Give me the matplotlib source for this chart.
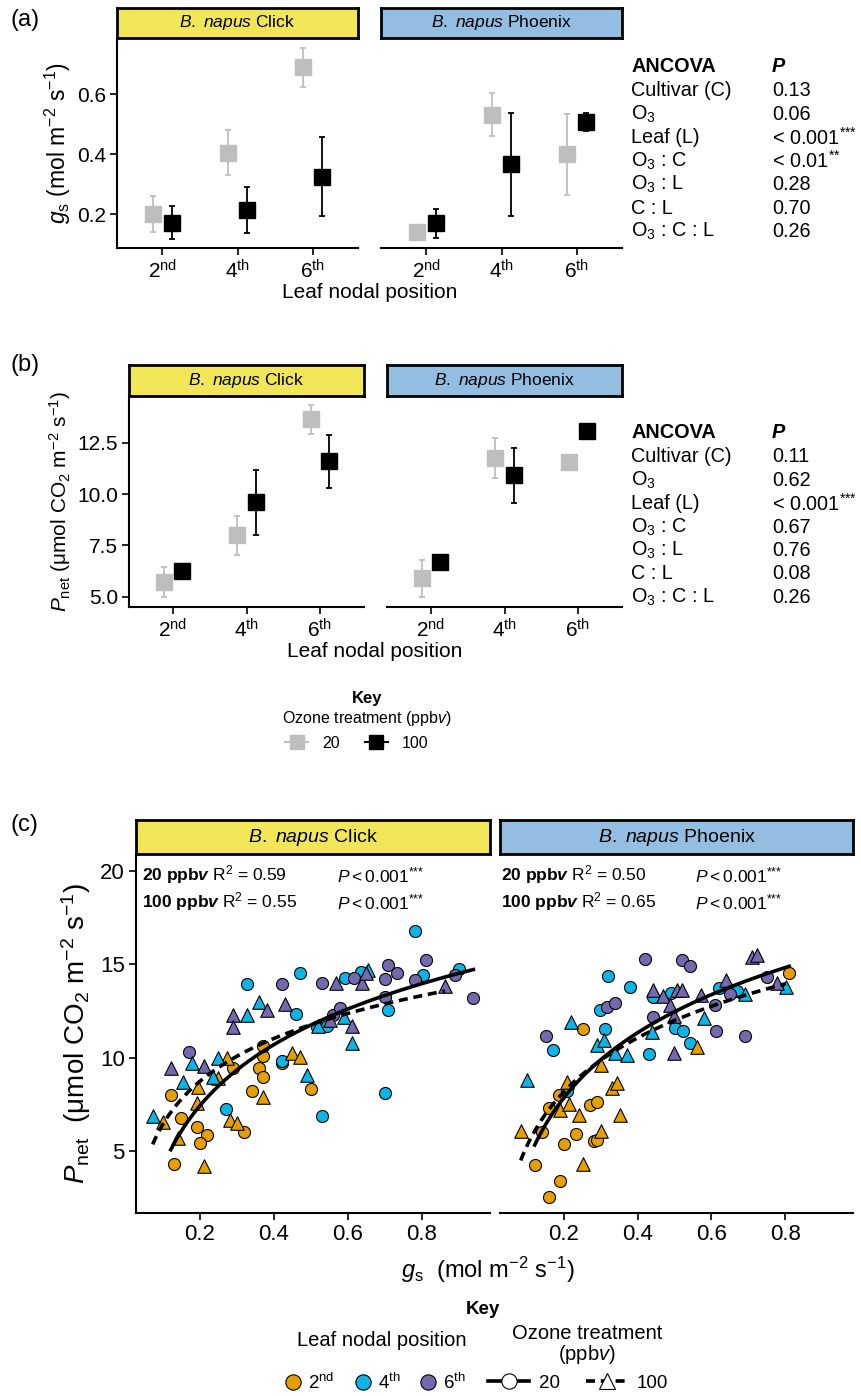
import numpy as np
import matplotlib
matplotlib.use("Agg")
import matplotlib.pyplot as plt
from matplotlib.lines import Line2D

plt.rcParams["font.family"] = ["Liberation Sans", "DejaVu Sans"]
plt.rcParams["mathtext.fontset"] = "custom"
plt.rcParams["mathtext.rm"] = "Liberation Sans"
plt.rcParams["mathtext.it"] = "Liberation Sans:italic"
plt.rcParams["mathtext.bf"] = "Liberation Sans:bold"
plt.rcParams["mathtext.bfit"] = "Liberation Sans:italic:bold"

# -- data: panel (a) g_s and (b) P_net, means +- error ------------------------
leaf_labels = [r"2$^{\rm nd}$", r"4$^{\rm th}$", r"6$^{\rm th}$"]

gs_click_20 = [0.200, 0.406, 0.690]
gs_click_20_err = [0.060, 0.075, 0.066]
gs_click_100 = [0.172, 0.216, 0.326]
gs_click_100_err = [0.055, 0.077, 0.132]
gs_phoenix_20 = [0.140, 0.533, 0.400]
gs_phoenix_20_err = [0.02, 0.072, 0.135]
gs_phoenix_100 = [0.170, 0.367, 0.509]
gs_phoenix_100_err = [0.047, 0.172, 0.030]

pn_click_20 = [5.70, 7.99, 13.64]
pn_click_20_err = [0.73, 0.94, 0.70]
pn_click_100 = [6.27, 9.60, 11.59]
pn_click_100_err = [0.30, 1.57, 1.31]
pn_phoenix_20 = [5.90, 11.77, 11.56]
pn_phoenix_20_err = [0.90, 0.97, 0.30]
pn_phoenix_100 = [6.68, 10.92, 13.06]
pn_phoenix_100_err = [0.35, 1.33, 0.30]

STARS3 = r"$^{{*}{*}{*}}$"
STARS2 = r"$^{{*}{*}}$"
ancova_terms = ["Cultivar (C)", r"O$_3$", "Leaf (L)", r"O$_3$ : C",
                r"O$_3$ : L", "C : L", r"O$_3$ : C : L"]
ancova_p_gs = ["0.13", "0.06", "< 0.001" + STARS3, "< 0.01" + STARS2,
               "0.28", "0.70", "0.26"]
ancova_p_pn = ["0.11", "0.62", "< 0.001" + STARS3, "0.67", "0.76",
               "0.08", "0.26"]

# -- data: panel (c) scatter, (g_s, P_net) per cultivar / ozone / leaf -------
click_20 = {
    2: [(0.121, 8.00), (0.150, 6.75), (0.191, 6.27), (0.220, 5.86), (0.200, 5.45),
        (0.130, 4.29), (0.290, 9.43), (0.340, 8.21), (0.320, 6.04), (0.360, 9.43),
        (0.371, 8.98), (0.371, 10.09), (0.371, 10.64), (0.421, 9.70), (0.499, 8.34)],
    4: [(0.328, 13.93), (0.470, 14.52), (0.459, 12.34), (0.270, 7.23), (0.421, 9.84),
        (0.529, 6.88), (0.700, 8.13), (0.781, 16.79), (0.592, 14.25), (0.634, 14.57),
        (0.709, 12.55), (0.802, 14.43), (0.901, 14.73), (0.515, 11.63), (0.544, 11.70)],
    6: [(0.170, 10.29), (0.421, 13.93), (0.529, 13.98), (0.617, 14.25), (0.700, 14.20),
        (0.709, 14.96), (0.732, 14.52), (0.781, 14.13), (0.811, 15.23), (0.889, 14.43),
        (0.939, 13.18), (0.700, 13.27), (0.560, 12.29), (0.578, 12.64)],
}
click_100 = {
    2: [(0.101, 6.57), (0.141, 5.68), (0.211, 4.20), (0.191, 7.55), (0.195, 8.45),
        (0.250, 8.89), (0.272, 9.96), (0.281, 6.66), (0.301, 6.48), (0.371, 7.88),
        (0.450, 10.23), (0.470, 10.02)],
    4: [(0.072, 6.88), (0.153, 8.71), (0.178, 9.73), (0.250, 9.96), (0.236, 8.98),
        (0.328, 12.29), (0.360, 12.95), (0.488, 9.07), (0.610, 10.77), (0.589, 12.20),
        (0.520, 11.70), (0.653, 14.70)],
    6: [(0.121, 9.43), (0.211, 9.55), (0.290, 12.29), (0.290, 11.63), (0.380, 12.55),
        (0.430, 12.86), (0.569, 13.98), (0.637, 13.98), (0.650, 14.55), (0.862, 13.84),
        (0.610, 11.70), (0.551, 12.02)],
}
phoenix_20 = {
    2: [(0.159, 2.55), (0.191, 3.41), (0.121, 4.25), (0.140, 6.04), (0.200, 5.36),
        (0.232, 5.89), (0.281, 5.55), (0.290, 5.59), (0.159, 7.32), (0.186, 8.00),
        (0.272, 7.46), (0.290, 7.64), (0.251, 11.52), (0.811, 14.55)],
    4: [(0.320, 14.38), (0.380, 13.80), (0.299, 12.55), (0.311, 11.52), (0.171, 10.41),
        (0.430, 10.18), (0.209, 8.21), (0.441, 13.27), (0.491, 13.45), (0.501, 11.57),
        (0.522, 11.45), (0.541, 10.80), (0.621, 13.71), (0.670, 13.59)],
    6: [(0.421, 15.29), (0.520, 15.23), (0.541, 14.91), (0.152, 11.13), (0.317, 12.73),
        (0.340, 12.91), (0.441, 12.16), (0.610, 12.82), (0.613, 11.45), (0.691, 11.18),
        (0.750, 14.29), (0.650, 13.39)],
}
phoenix_100 = {
    2: [(0.083, 6.09), (0.209, 8.71), (0.189, 7.20), (0.214, 7.52), (0.242, 6.93),
        (0.252, 4.30), (0.302, 6.09), (0.351, 6.93), (0.331, 8.36), (0.344, 8.63),
        (0.302, 9.61), (0.561, 10.59)],
    4: [(0.101, 8.80), (0.220, 11.93), (0.290, 10.68), (0.310, 10.95), (0.340, 10.27),
        (0.371, 10.14), (0.438, 11.39), (0.580, 12.11), (0.691, 13.39), (0.802, 13.80)],
    6: [(0.709, 15.41), (0.723, 15.50), (0.441, 13.63), (0.470, 13.30), (0.506, 13.63),
        (0.520, 13.63), (0.572, 13.36), (0.640, 14.16), (0.777, 14.02), (0.488, 12.82),
        (0.500, 12.23), (0.500, 10.27)],
}
fit_text_click = [r"$\mathbf{20\ ppb}\boldsymbol{v}$ R$^2$ = 0.59",
                  r"$\mathbf{100\ ppb}\boldsymbol{v}$ R$^2$ = 0.55"]
fit_text_phoenix = [r"$\mathbf{20\ ppb}\boldsymbol{v}$ R$^2$ = 0.50",
                    r"$\mathbf{100\ ppb}\boldsymbol{v}$ R$^2$ = 0.65"]
fit_p_text = [r"$\mathit{P} < 0.001$" + STARS3, r"$\mathit{P} < 0.001$" + STARS3]

# -- styling --------------------------------------------------------------------
GREY = "#BEBEBE"
LEAF_COL = {2: "#E69F00", 4: "#0DB4E6", 6: "#7469AE"}
YELLOW = "#F1E658"
BLUE = "#93BDE1"
W, H = 861, 1396

fig = plt.figure(figsize=(W / 100, H / 100), dpi=100)


def rect(x0, x1, y0, y1):
    return [x0 / W, 1 - y1 / H, (x1 - x0) / W, (y1 - y0) / H]


def strip(x0, x1, y0, y1, label, color, fs):
    s = fig.add_axes(rect(x0, x1, y0, y1))
    s.set_facecolor(color)
    s.set_xticks([])
    s.set_yticks([])
    for sp in s.spines.values():
        sp.set_linewidth(2)
    s.text(0.5, 0.5, label, ha="center", va="center", fontsize=fs,
           transform=s.transAxes)


def style_axes(ax, left, fs):
    ax.spines["top"].set_visible(False)
    ax.spines["right"].set_visible(False)
    ax.spines["bottom"].set_linewidth(1.5)
    ax.spines["left"].set_linewidth(1.5)
    ax.tick_params(width=1.2, length=5, labelsize=fs, pad=3)
    if not left:
        ax.spines["left"].set_visible(False)
        ax.tick_params(axis="y", left=False, labelleft=False)


def means_panel(ax, m20, e20, m100, e100, ylim, yticks, left):
    pos = np.arange(1, 4)
    ax.errorbar(pos - 0.125, m20, yerr=e20, fmt="s", color=GREY, ms=11,
                elinewidth=1.3, capsize=2, capthick=1.3)
    ax.errorbar(pos + 0.125, m100, yerr=e100, fmt="s", color="black", ms=11,
                elinewidth=1.3, capsize=2, capthick=1.3)
    ax.set_xlim(0.4, 3.6)
    ax.set_ylim(*ylim)
    ax.set_xticks(pos)
    ax.set_xticklabels(leaf_labels)
    ax.set_yticks(yticks)
    style_axes(ax, left, 15)


def ancova_table(y0, pvals):
    dy = 23.5
    fig.text(631 / W, 1 - y0 / H, "ANCOVA", fontsize=14.3, fontweight="bold",
             va="center")
    fig.text(772 / W, 1 - y0 / H, "P", fontsize=14.3, fontweight="bold",
             style="italic", va="center")
    for i, (t, p) in enumerate(zip(ancova_terms, pvals)):
        yy = 1 - (y0 + dy * (i + 1)) / H
        fig.text(631 / W, yy, t, fontsize=14.3, va="center")
        fig.text(772 / W, yy, p, fontsize=14.3, va="center")


# -- panel (a) ------------------------------------------------------------------
ax = fig.add_axes(rect(117, 358, 38, 248))
means_panel(ax, gs_click_20, gs_click_20_err, gs_click_100, gs_click_100_err,
            (0.088, 0.788), [0.2, 0.4, 0.6], True)
ax.set_yticklabels(["0.2", "0.4", "0.6"])
ax.set_ylabel(r"$g_{\rm s}$ (mol m$^{-2}$ s$^{-1}$)", fontsize=16.5, labelpad=3)
ax = fig.add_axes(rect(381, 622, 38, 248))
means_panel(ax, gs_phoenix_20, gs_phoenix_20_err, gs_phoenix_100,
            gs_phoenix_100_err, (0.088, 0.788), [0.2, 0.4, 0.6], False)
strip(117, 358, 8, 38, r"$\mathit{B.\ napus}$ Click", YELLOW, 12.5)
strip(381, 622, 8, 38, r"$\mathit{B.\ napus}$ Phoenix", BLUE, 12.5)
fig.text(370 / W, 1 - 293 / H, "Leaf nodal position", fontsize=15,
         ha="center", va="center")
fig.text(10 / W, 1 - 20 / H, "(a)", fontsize=17, va="center")
ancova_table(67, ancova_p_gs)

# -- panel (b) ------------------------------------------------------------------
ax = fig.add_axes(rect(129, 364, 396, 607))
means_panel(ax, pn_click_20, pn_click_20_err, pn_click_100, pn_click_100_err,
            (4.5, 14.78), [5.0, 7.5, 10.0, 12.5], True)
ax.set_yticklabels(["5.0", "7.5", "10.0", "12.5"])
ax.set_ylabel(r"$P_{\rm net}$ ($\mathrm{\mu}$mol CO$_2$ m$^{-2}$ s$^{-1}$)",
              fontsize=15, labelpad=3)
ax = fig.add_axes(rect(387, 622, 396, 607))
means_panel(ax, pn_phoenix_20, pn_phoenix_20_err, pn_phoenix_100,
            pn_phoenix_100_err, (4.5, 14.78), [5.0, 7.5, 10.0, 12.5], False)
strip(129, 364, 365, 396, r"$\mathit{B.\ napus}$ Click", YELLOW, 12.5)
strip(387, 622, 365, 396, r"$\mathit{B.\ napus}$ Phoenix", BLUE, 12.5)
fig.text(375 / W, 1 - 652 / H, "Leaf nodal position", fontsize=15,
         ha="center", va="center")
fig.text(10 / W, 1 - 365 / H, "(b)", fontsize=17, va="center")
ancova_table(433, ancova_p_pn)

# key for (a) and (b)
fig.text(367 / W, 1 - 698 / H, "Key", fontsize=12, fontweight="bold",
         ha="center", va="center")
fig.text(367 / W, 1 - 718 / H, r"Ozone treatment (ppb$\mathit{v}$)",
         fontsize=11.5, ha="center", va="center")
key_ab = [Line2D([0], [0], color=GREY, marker="s", ms=10, lw=1.5),
          Line2D([0], [0], color="black", marker="s", ms=10, lw=1.5)]
fig.legend(key_ab, ["20", "100"], loc="center", ncol=2, frameon=False,
           bbox_to_anchor=(357 / W, 1 - 743 / H), fontsize=11.5,
           handlelength=1.4, columnspacing=1.6, handletextpad=0.9)


# -- panel (c) ------------------------------------------------------------------
def scatter_panel(ax, d20, d100, left):
    for dset, mk, sz in [(d20, "o", 75), (d100, "^", 95)]:
        for leaf in (2, 4, 6):
            pts = np.array(dset[leaf])
            ax.scatter(pts[:, 0], pts[:, 1], s=sz, marker=mk,
                       facecolor=LEAF_COL[leaf], edgecolor="black",
                       linewidth=0.8, zorder=3)
    # log fit per ozone treatment, drawn over the data range
    for dset, ls in [(d20, "-"), (d100, (0, (2.5, 1.6)))]:
        pts = np.vstack([np.array(v) for v in dset.values()])
        b, a = np.polyfit(np.log(pts[:, 0]), pts[:, 1], 1)
        xx = np.linspace(pts[:, 0].min(), pts[:, 0].max(), 200)
        ax.plot(xx, a + b * np.log(xx), color="black", lw=2.6, ls=ls,
                zorder=4)
    ax.set_xlim(0.027, 0.984)
    ax.set_ylim(1.68, 20.9)
    ax.set_xticks([0.2, 0.4, 0.6, 0.8])
    ax.set_xticklabels(["0.2", "0.4", "0.6", "0.8"])
    ax.set_yticks([5, 10, 15, 20])
    style_axes(ax, left, 16)


ax = fig.add_axes(rect(136, 490, 854, 1213))
scatter_panel(ax, click_20, click_100, True)
ax.set_ylabel(r"$P_{\rm net}$  ($\mathrm{\mu}$mol CO$_2$ m$^{-2}$ s$^{-1}$)",
              fontsize=20, labelpad=5)
ax = fig.add_axes(rect(500, 853, 854, 1213))
scatter_panel(ax, phoenix_20, phoenix_100, False)
strip(136, 490, 820, 854, r"$\mathit{B.\ napus}$ Click", YELLOW, 14)
strip(500, 853, 820, 854, r"$\mathit{B.\ napus}$ Phoenix", BLUE, 14)

for i in range(2):
    yy = 1 - (875 + 27 * i) / H
    fig.text(142 / W, yy, fit_text_click[i], fontsize=12.5, va="center")
    fig.text(337 / W, yy, fit_p_text[i], fontsize=12.5, va="center")
    fig.text(501 / W, yy, fit_text_phoenix[i], fontsize=12.5, va="center")
    fig.text(695 / W, yy, fit_p_text[i], fontsize=12.5, va="center")

fig.text(488 / W, 1 - 1270 / H,
         r"$g_{\rm s}$  (mol m$^{-2}$ s$^{-1}$)", fontsize=17,
         ha="center", va="center")
fig.text(10 / W, 1 - 825 / H, "(c)", fontsize=17, va="center")

# key for (c)
fig.text(483 / W, 1 - 1309 / H, "Key", fontsize=13.5, fontweight="bold",
         ha="center", va="center")
fig.text(382 / W, 1 - 1340 / H, "Leaf nodal position", fontsize=14.5,
         ha="center", va="center")
fig.text(587 / W, 1 - 1345 / H, "Ozone treatment\n" + r"(ppb$\mathit{v}$)",
         fontsize=14.5, ha="center", va="center", linespacing=0.95)
key_leaf = [Line2D([0], [0], ls="none", marker="o", ms=11,
                   mfc=LEAF_COL[k], mec="black", mew=0.8) for k in (2, 4, 6)]
fig.legend(key_leaf, leaf_labels, loc="center", ncol=3, frameon=False,
           bbox_to_anchor=(375 / W, 1 - 1383 / H), fontsize=13.5,
           handlelength=1.0, columnspacing=1.0, handletextpad=0.3)
key_o3 = [Line2D([0], [0], color="black", lw=2.6, marker="o", ms=11,
                 mfc="white", mec="black", mew=0.8),
          Line2D([0], [0], color="black", lw=2.6, ls=(0, (2.5, 1.6)),
                 marker="^", ms=12, mfc="white", mec="black", mew=0.8)]
fig.legend(key_o3, ["20", "100"], loc="center", ncol=2, frameon=False,
           bbox_to_anchor=(578 / W, 1 - 1383 / H), fontsize=13.5,
           handlelength=2.2, columnspacing=1.4, handletextpad=0.5)

fig.savefig("out.png", dpi=100)
